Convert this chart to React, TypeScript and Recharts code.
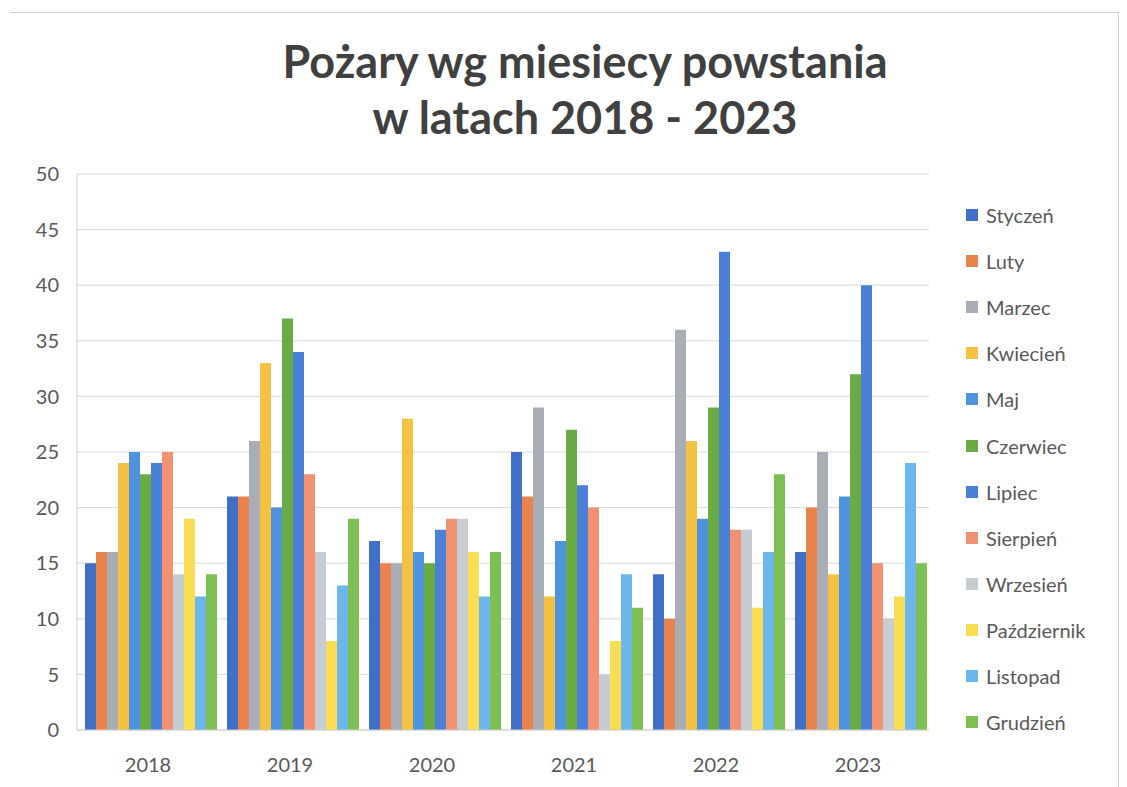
import { BarChart, Bar, XAxis, YAxis, CartesianGrid, Legend } from 'recharts'

const YEARS = ['2018', '2019', '2020', '2021', '2022', '2023']
const MONTHS = [
  'Styczeń', 'Luty', 'Marzec', 'Kwiecień', 'Maj', 'Czerwiec',
  'Lipiec', 'Sierpień', 'Wrzesień', 'Październik', 'Listopad', 'Grudzień',
]

const STYCZEN = [15, 21, 17, 25, 14, 16]
const LUTY = [16, 21, 15, 21, 10, 20]
const MARZEC = [16, 26, 15, 29, 36, 25]
const KWIECIEN = [24, 33, 28, 12, 26, 14]
const MAJ = [25, 20, 16, 17, 19, 21]
const CZERWIEC = [23, 37, 15, 27, 29, 32]
const LIPIEC = [24, 34, 18, 22, 43, 40]
const SIERPIEN = [25, 23, 19, 20, 18, 15]
const WRZESIEN = [14, 16, 19, 5, 18, 10]
const PAZDZIERNIK = [19, 8, 16, 8, 11, 12]
const LISTOPAD = [12, 13, 12, 14, 16, 24]
const GRUDZIEN = [14, 19, 16, 11, 23, 15]

const Y_TICKS = [0, 5, 10, 15, 20, 25, 30, 35, 40, 45, 50]

const SERIES = [STYCZEN, LUTY, MARZEC, KWIECIEN, MAJ, CZERWIEC, LIPIEC, SIERPIEN, WRZESIEN, PAZDZIERNIK, LISTOPAD, GRUDZIEN]
const COLORS = [
  '#3f6fc6', '#e9834c', '#a8adb6', '#f4c243', '#4f93de', '#6aab46',
  '#4a80d6', '#f39273', '#c6cdd2', '#f9dd52', '#6db6ec', '#7cbf52',
]

const data = YEARS.map((year, i) => {
  const row: Record<string, string | number> = { year }
  MONTHS.forEach((m, j) => { row[m] = SERIES[j][i] })
  return row
})

const FONT = 'Lato, "Open Sans", sans-serif'
const TEXT = '#595959'

function LegendList({ payload }: { payload?: { value: string; color: string }[] }) {
  // keep series order, not alphabetical
  const items = [...(payload ?? [])].sort((a, b) => MONTHS.indexOf(a.value) - MONTHS.indexOf(b.value))
  return (
    <ul style={{ listStyle: 'none', margin: 0, padding: 0 }}>
      {items.map(item => (
        <li key={item.value} style={{ display: 'flex', alignItems: 'center', height: 46.1, fontSize: 20, color: TEXT, fontFamily: FONT }}>
          <span style={{ display: 'inline-block', width: 12, height: 12, background: item.color, marginRight: 8 }} />
          {item.value}
        </li>
      ))}
    </ul>
  )
}

export default function App() {
  return (
    <div style={{ position: 'relative', width: 1127, height: 787, background: '#fff' }}>
      <style>{'body{margin:0}'}</style>
      <div style={{ position: 'absolute', left: 10, top: 12, width: 1108, height: 775, borderTop: '1px solid #d0d0d0', borderRight: '1px solid #d0d0d0' }} />
      <div
        style={{
          position: 'absolute', left: 0, top: 33, width: 1170, textAlign: 'center',
          fontFamily: FONT, fontWeight: 700, fontSize: 45, lineHeight: '56px', color: '#404040',
        }}
      >
        Pożary wg miesiecy powstania<br />w latach 2018 - 2023
      </div>
      <BarChart
        width={1127}
        height={787}
        data={data}
        margin={{ top: 174, right: 38, left: 0, bottom: 17 }}
        barCategoryGap={8}
        barGap={0}
        style={{ position: 'absolute', left: 0, top: 0 }}
      >
        <CartesianGrid stroke="#d9d9d9" vertical={false} />
        <XAxis
          dataKey="year"
          height={40}
          tickLine={false}
          axisLine={{ stroke: '#d0d0d0' }}
          tick={{ fill: TEXT, fontSize: 20, fontFamily: FONT }}
          tickMargin={22}
        />
        <YAxis
          width={77}
          domain={[0, 50]}
          ticks={Y_TICKS}
          interval={0}
          tickLine={false}
          axisLine={{ stroke: '#d0d0d0' }}
          tick={{ fill: TEXT, fontSize: 20, fontFamily: FONT }}
          tickMargin={12}
        />
        <Legend
          layout="vertical"
          align="right"
          verticalAlign="top"
          content={<LegendList />}
          wrapperStyle={{ left: 966, top: 192, width: 160 }}
        />
        {MONTHS.map((m, j) => (
          <Bar key={m} dataKey={m} fill={COLORS[j]} isAnimationActive={false} />
        ))}
      </BarChart>
    </div>
  )
}
